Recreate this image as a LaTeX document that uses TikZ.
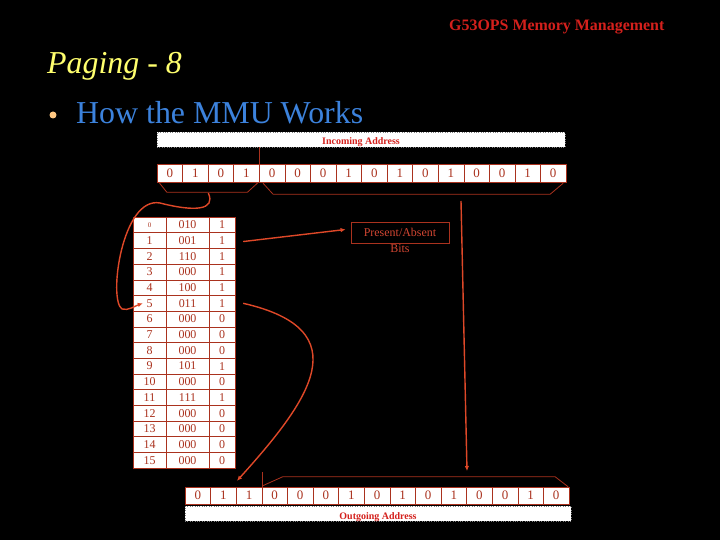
\documentclass[tikz,border=0pt]{standalone}
\usepackage{fontspec}
\setmainfont{Liberation Serif}
\usetikzlibrary{arrows.meta,positioning,calc}
\definecolor{linkred}{RGB}{222,72,40}
\definecolor{cellred}{RGB}{170,50,30}
\definecolor{presred}{RGB}{210,70,50}
\definecolor{titlered}{RGB}{212,32,28}
\definecolor{pageyellow}{RGB}{255,255,110}
\definecolor{bulletblue}{RGB}{60,130,220}
\definecolor{bulletorange}{RGB}{255,200,130}
\tikzset{
  bitcell/.style={draw=cellred, fill=white, minimum width=25.6bp, minimum height=18bp, inner sep=0pt, text=cellred, font=\fontsize{13}{13}\selectfont},
  tcell/.style={draw=cellred, fill=white, minimum height=15.69bp, inner sep=0pt, text=cellred, font=\fontsize{12}{12}\selectfont},
  addrbar/.style={draw=gray, dotted, fill=white, inner sep=0pt, text height=11bp, text depth=0bp, text=titlered, font=\bfseries\fontsize{10}{10}\selectfont},
  infobox/.style={draw=cellred, line width=0.8bp, text=presred, minimum width=98bp, minimum height=21bp, inner sep=0pt, font=\fontsize{12}{12}\selectfont},
  link/.style={draw=linkred, line width=1.4bp},
  linkarrow/.style={link, -{Latex[length=5bp,width=4.5bp]}},
  brk/.style={draw=cellred, line width=0.8bp}
}
\begin{document}
\begin{tikzpicture}[x=1bp,y=1bp]
  \fill[black] (0,0) rectangle (720,-540);
  % headings
  \node[anchor=base west, inner sep=0pt, text=titlered, font=\bfseries\fontsize{16}{16}\selectfont] (hdr) at (449,-31) {G53OPS Memory Management};
  \node[anchor=base west, inner sep=0pt, text=pageyellow, font=\itshape\fontsize{32}{32}\selectfont] (ttl) at (47,-74) {Paging - 8};
  \node[anchor=base west, inner sep=0pt, text=bulletblue, font=\fontsize{32}{32}\selectfont] (sub) at (76,-124) {How the MMU Works};
  \node[circle, fill=bulletorange, inner sep=0pt, minimum size=7bp] (dot) at (53,-115) {};
  % incoming address
  \node[addrbar, minimum width=408bp, minimum height=15bp] (inbar) at (361,-139.5) {Incoming Address};
  \foreach \b [count=\i from 0] in {0,1,0,1,0,0,0,1,0,1,0,1,0,0,1,0}
    \node[bitcell] (in\i) at ({169.8+25.56*\i},-173) {\b};
  % page table
  \foreach \fr/\pb [count=\r from 0] in {010/1,001/1,110/1,000/1,100/1,011/1,000/0,000/0,000/0,101/1,000/0,111/1,000/0,000/0,000/0,000/0} {
    \pgfmathsetmacro{\ry}{-224.85-15.69*\r}
    \node[tcell, minimum width=33bp] (idx\r) at (149.5,\ry) {\ifnum\r=0 \scriptsize 0\else\r\fi};
    \node[tcell, minimum width=43bp] (frm\r) at (187.5,\ry) {\fr};
    \node[tcell, minimum width=26bp] (bit\r) at (222,\ry) {\pb};
  }
  \node[infobox] (pab) at (400,-232.5) {Present/Absent};
  \node[below=0bp of pab, inner sep=1bp, text=presred, font=\fontsize{12}{12}\selectfont] (pabb) {Bits};
  % outgoing address
  \foreach \b [count=\i from 0] in {0,1,1,0,0,0,1,0,1,0,1,0,0,1,0}
    \node[bitcell, minimum height=17bp] (out\i) at ({197.8+25.6*\i},-495.5) {\b};
  \node[addrbar, minimum width=386bp, minimum height=15bp] (outbar) at (378,-513.5) {Outgoing Address};
  % brackets
  \draw[brk] (in3.north east) -- (in3.north east |- inbar.south);
  \draw[brk] ($(in0.south west)+(2,0)$) -- ++(8,-10) -- ($(in3.south east)+(-12,-10)$) -- ($(in3.south east)+(-1,0)$);
  \draw[brk] ($(in4.south west)+(4,-1)$) -- ++(10,-11) -- ($(in15.south east)+(-16,-12)$) -- ($(in15.south east)+(-3,-1)$);
  \draw[brk] ($(out3.north west)+(1,1)$) -- ++(20,9) -- ($(out14.north east)+(-14,10)$) -- ($(out14.north east)+(-1,0)$);
  \draw[brk] (out2.north east) -- ++(0,15);
  \coordinate (pgsel) at ($(in1.south east)+(0,-11)$);
  \coordinate (offsel) at (461,-201);
  \coordinate (offdst) at (467,-471);
  % connectors
  \draw[linkarrow] (pgsel) .. controls (216,-210) and (195,-212) .. (160,-203) .. controls (122,-196) and (108,-300) .. (122,-309) .. controls (128,-311) and (135,-306) .. ($(idx5.west)+(10,0)$);
  \draw[linkarrow] ($(bit1.east)+(8,-1)$) -- ($(pab.west)+(-5,3)$);
  \draw[linkarrow] ($(bit5.east)+(8,0)$) .. controls (360,-330) and (310,-400) .. ($(out2.north west)+(1,6)$);
  \draw[linkarrow] (offsel) -- (offdst);
\end{tikzpicture}
\end{document}
